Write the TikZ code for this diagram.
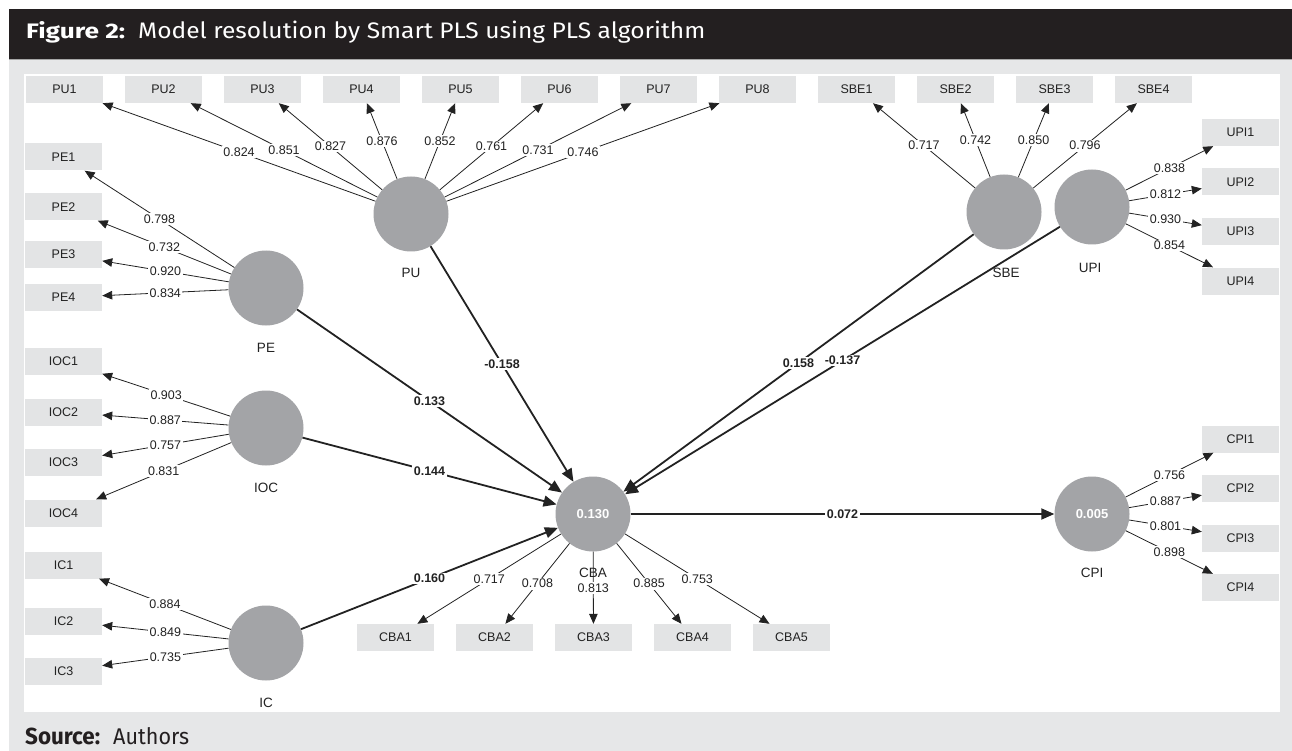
\documentclass[tikz,border=0pt]{standalone}
\usepackage{graphicx}
\usepackage{fontspec}
\setmainfont{Liberation Sans}
\newfontfamily\headfont{Fira Sans}
\usetikzlibrary{arrows.meta}
\definecolor{hdr}{HTML}{231F20}
\definecolor{bgg}{HTML}{E6E7E8}
\definecolor{boxg}{HTML}{E3E4E5}
\definecolor{circ}{HTML}{A3A4A7}
\definecolor{ink}{HTML}{222222}
\tikzset{
 ind/.style={rectangle, fill=boxg, minimum width=77pt, minimum height=27pt, inner sep=0pt,
   font=\fontsize{12.5}{14}\selectfont, text=ink},
 lat/.style={circle, fill=circ, minimum size=75pt, inner sep=0pt,
   font=\bfseries\fontsize{13}{15}\selectfont, text=white},
 ld/.style={line width=0.8pt, draw=ink, -{Triangle[length=10pt,width=8.5pt]}},
 pth/.style={line width=1.8pt, draw=ink, -{Triangle[length=13pt,width=11pt]}},
 val/.style={fill=white, inner sep=1.5pt, font=\fontsize{12.5}{14}\selectfont, text=ink},
 bval/.style={val, font=\bfseries\fontsize{12.5}{14}\selectfont},
 lname/.style={inner sep=0pt, font=\fontsize{13.5}{15}\selectfont, text=ink},
 hd/.style={anchor=base west, inner sep=0pt},
}
\begin{document}
\begin{tikzpicture}[x=1pt,y=-1pt]
\useasboundingbox (0,0) rectangle (1292,751);
\fill[bgg] (9,60) rectangle (1292,751);
\fill[hdr] (9,9) rectangle (1292,59.5);
\draw[gray!70, line width=1pt] (9,60) -- (1292,60);
\fill[white] (24,74) rectangle (1280,712);

% header and footer
\node[hd, text=white] (fig) at (26,39) {\resizebox{99pt}{17pt}{\headfont\bfseries Figure 2:}};
\node[hd, text=white] (ttl) at (138,39) {\resizebox{567pt}{17.5pt}{\headfont Model resolution by Smart PLS using PLS algorithm}};
\node[hd, text=hdr] (src) at (25,744) {\resizebox{75pt}{16.5pt}{\headfont\bfseries Source:}};
\node[hd, text=hdr] (auth) at (113,744) {\resizebox{76pt}{17pt}{\headfont Authors}};

% latent variables
\node[lat] (PU) at (411,214) {};
\node[lat] (PE) at (266,288) {};
\node[lat] (IOC) at (266,428) {};
\node[lat] (IC) at (266,643) {};
\node[lat] (CBA) at (593,514) {0.130};
\node[lat] (CPI) at (1092,514) {0.005};
\node[lat] (SBE) at (1004,212) {};
\node[lat] (UPI) at (1092,207) {};

% indicators
\foreach \i/\x in {1/64.5,2/163.5,3/262.5,4/361.5,5/460.5,6/559.5,7/658.5,8/757.5}
  \node[ind] (PU\i) at (\x,89.5) {PU\i};
\foreach \i/\x in {1/856.5,2/955.5,3/1054.5,4/1153.5}
  \node[ind] (SBE\i) at (\x,89.5) {SBE\i};
\foreach \i/\y in {1/132.5,2/182,3/231.5,4/281}
  \node[ind] (UPI\i) at (1240.5,\y) {UPI\i};
\foreach \i/\y in {1/439,2/488.5,3/538,4/587.5}
  \node[ind] (CPI\i) at (1240.5,\y) {CPI\i};
\foreach \i/\y in {1/157,2/207,3/254.5,4/297.5}
  \node[ind] (PE\i) at (63.5,\y) {PE\i};
\foreach \i/\y in {1/361,2/412,3/462,4/513}
  \node[ind] (IOC\i) at (63.5,\y) {IOC\i};
\foreach \i/\y in {1/565,2/621,3/671}
  \node[ind] (IC\i) at (63.5,\y) {IC\i};
\foreach \i/\x in {1/395.5,2/494.5,3/593.5,4/692.5,5/791.5}
  \node[ind] (CBA\i) at (\x,637.5) {CBA\i};

% names of latent variables
\node[lname] (PUn) at (411,273) {PU};
\node[lname] (PEn) at (266,348) {PE};
\node[lname] (IOCn) at (266,488) {IOC};
\node[lname] (ICn) at (266,703) {IC};
\node[lname] (CBAn) at (593,573) {CBA};
\node[lname] (CPIn) at (1092,573) {CPI};
\node[lname] (SBEn) at (1006,273) {SBE};
\node[lname] (UPIn) at (1090,268) {UPI};

% loadings
\foreach \i/\v in {1/0.824,2/0.851,3/0.827,4/0.876,5/0.852,6/0.761,7/0.731,8/0.746}
  \draw[ld] (PU) -- node[val]{\v} (PU\i);
\foreach \i/\v in {1/0.717,2/0.742,3/0.850,4/0.796}
  \draw[ld] (SBE) -- node[val]{\v} (SBE\i);
\foreach \i/\v in {1/0.838,2/0.812,3/0.930,4/0.854}
  \draw[ld] (UPI) -- node[val]{\v} (UPI\i);
\foreach \i/\v in {1/0.756,2/0.887,3/0.801,4/0.898}
  \draw[ld] (CPI) -- node[val]{\v} (CPI\i);
\foreach \i/\v in {1/0.798,2/0.732,3/0.920,4/0.834}
  \draw[ld] (PE) -- node[val]{\v} (PE\i);
\foreach \i/\v in {1/0.903,2/0.887,3/0.757,4/0.831}
  \draw[ld] (IOC) -- node[val]{\v} (IOC\i);
\foreach \i/\v in {1/0.884,2/0.849,3/0.735}
  \draw[ld] (IC) -- node[val]{\v} (IC\i);
\foreach \i/\v in {1/0.717,2/0.708,3/0.813,4/0.885,5/0.753}
  \draw[ld] (CBA) -- node[val]{\v} (CBA\i);

% structural paths
\draw[pth] (PU) -- node[bval]{-0.158} (CBA);
\draw[pth] (PE) -- node[bval]{0.133} (CBA);
\draw[pth] (IOC) -- node[bval]{0.144} (CBA);
\draw[pth] (IC) -- node[bval]{0.160} (CBA);
\draw[pth] (SBE) -- node[bval]{0.158} (CBA);
\draw[pth] (UPI) -- node[bval]{-0.137} (CBA);
\draw[pth] (CBA) -- node[bval]{0.072} (CPI);
\end{tikzpicture}
\end{document}
